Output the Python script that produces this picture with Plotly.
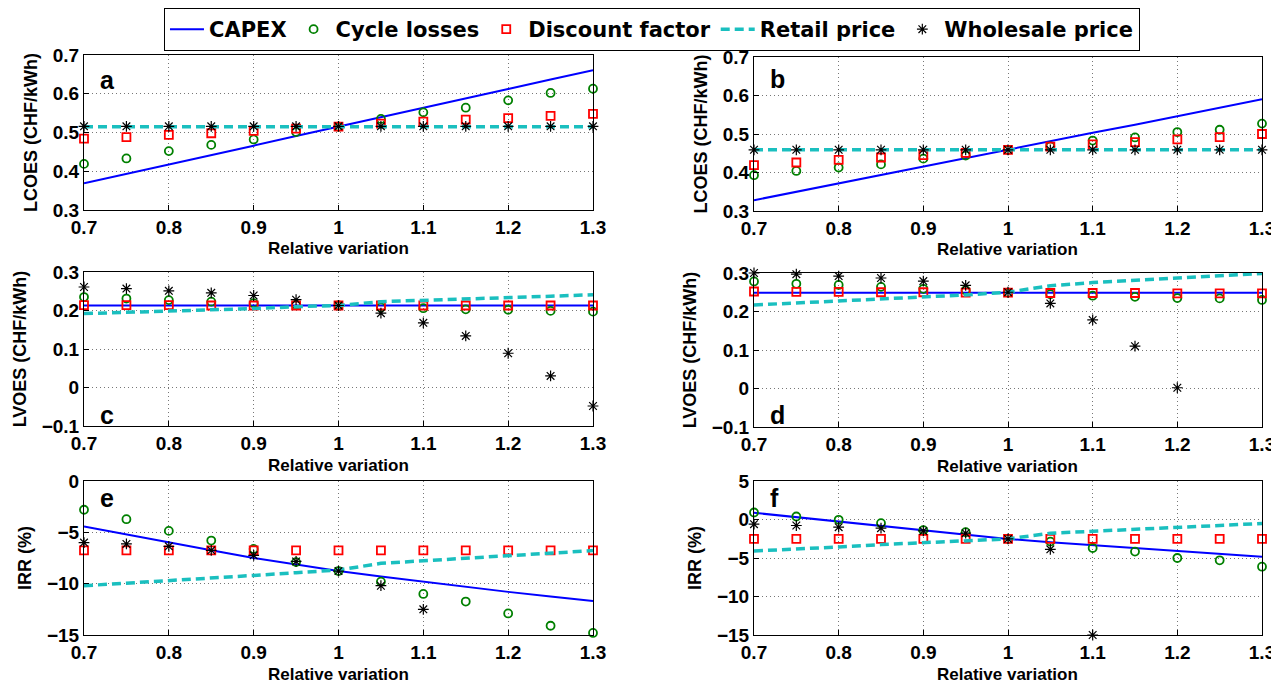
import plotly.graph_objects as go

W, H = 1279, 682

RELATIVE = [0.7, 0.75, 0.8, 0.85, 0.9, 0.95, 1.0, 1.05, 1.1, 1.15, 1.2, 1.25, 1.3]
SERIES_NAMES = ["CAPEX", "Cycle losses", "Discount factor", "Retail price", "Wholesale price"]
PANEL_LETTERS = ["a", "b", "c", "d", "e", "f"]
Y_TITLES = ["LCOES (CHF/kWh)", "LCOES (CHF/kWh)", "LVOES (CHF/kWh)", "LVOES (CHF/kWh)", "IRR (%)", "IRR (%)"]
X_TITLE = "Relative variation"

# Panel a: LCOES
A_CAPEX = [0.369, 0.393, 0.418, 0.442, 0.466, 0.491, 0.515, 0.539, 0.564, 0.588, 0.612, 0.637, 0.661]
A_CYCLE = [0.419, 0.433, 0.452, 0.468, 0.482, 0.501, 0.515, 0.535, 0.552, 0.564, 0.583, 0.602, 0.613]
A_DISCOUNT = [0.484, 0.488, 0.494, 0.498, 0.504, 0.510, 0.515, 0.523, 0.528, 0.533, 0.537, 0.543, 0.548]
A_RETAIL = [0.515, 0.515, 0.515, 0.515, 0.515, 0.515, 0.515, 0.515, 0.515, 0.515, 0.515, 0.515, 0.515]
A_WHOLESALE = [0.516, 0.516, 0.516, 0.516, 0.516, 0.516, 0.516, 0.516, 0.516, 0.516, 0.516, 0.516, 0.516]

# Panel b: LCOES
B_CAPEX = [0.328, 0.350, 0.372, 0.393, 0.415, 0.437, 0.459, 0.481, 0.503, 0.524, 0.546, 0.568, 0.590]
B_CYCLE = [0.393, 0.404, 0.413, 0.421, 0.436, 0.444, 0.459, 0.468, 0.483, 0.491, 0.505, 0.511, 0.527]
B_DISCOUNT = [0.419, 0.426, 0.433, 0.439, 0.445, 0.451, 0.459, 0.467, 0.473, 0.479, 0.486, 0.492, 0.500]
B_RETAIL = [0.459, 0.459, 0.459, 0.459, 0.459, 0.459, 0.459, 0.459, 0.459, 0.459, 0.459, 0.459, 0.459]
B_WHOLESALE = [0.459, 0.459, 0.459, 0.459, 0.459, 0.459, 0.459, 0.459, 0.459, 0.459, 0.459, 0.459, 0.459]

# Panel c: LVOES
C_CAPEX = [0.213, 0.213, 0.213, 0.213, 0.213, 0.213, 0.213, 0.213, 0.213, 0.213, 0.213, 0.213, 0.213]
C_CYCLE = [0.235, 0.231, 0.227, 0.223, 0.219, 0.215, 0.213, 0.208, 0.206, 0.203, 0.202, 0.199, 0.197]
C_DISCOUNT = [0.214, 0.214, 0.214, 0.213, 0.213, 0.213, 0.213, 0.213, 0.213, 0.213, 0.213, 0.213, 0.213]
C_RETAIL = [0.192, 0.195, 0.198, 0.202, 0.205, 0.210, 0.213, 0.223, 0.226, 0.230, 0.233, 0.237, 0.241]
C_WHOLESALE = [0.261, 0.257, 0.251, 0.246, 0.239, 0.228, 0.213, 0.193, 0.168, 0.134, 0.089, 0.030, -0.048]

# Panel d: LVOES
D_CAPEX = [0.249, 0.249, 0.249, 0.249, 0.249, 0.249, 0.249, 0.249, 0.249, 0.249, 0.249, 0.249, 0.249]
D_CYCLE = [0.278, 0.272, 0.269, 0.264, 0.259, 0.255, 0.249, 0.245, 0.241, 0.238, 0.235, 0.234, 0.230]
D_DISCOUNT = [0.252, 0.251, 0.251, 0.250, 0.250, 0.249, 0.249, 0.248, 0.248, 0.248, 0.247, 0.247, 0.247]
D_RETAIL = [0.217, 0.222, 0.226, 0.232, 0.238, 0.243, 0.250, 0.267, 0.275, 0.281, 0.287, 0.293, 0.299]
D_WHOLESALE = [0.300, 0.297, 0.292, 0.287, 0.279, 0.268, 0.250, 0.221, 0.178, 0.110, 0.002, None, None]

# Panel e: IRR
E_CAPEX = [-4.43, -5.22, -6.00, -6.75, -7.50, -8.15, -8.77, -9.30, -9.82, -10.30, -10.80, -11.25, -11.70]
E_CYCLE = [-2.80, -3.72, -4.86, -5.80, -6.62, -7.90, -8.77, -9.80, -11.00, -11.74, -12.90, -14.10, -14.80]
E_DISCOUNT = [-6.75, -6.75, -6.75, -6.75, -6.75, -6.75, -6.75, -6.75, -6.75, -6.75, -6.75, -6.75, -6.75]
E_RETAIL = [-10.20, -9.97, -9.70, -9.46, -9.20, -8.93, -8.67, -8.02, -7.76, -7.53, -7.30, -7.04, -6.78]
E_WHOLESALE = [-6.00, -6.13, -6.36, -6.75, -7.24, -7.83, -8.77, -10.20, -12.50, None, None, None, None]

# Panel f: IRR
F_CAPEX = [0.87, 0.30, -0.30, -0.87, -1.43, -2.00, -2.52, -2.96, -3.35, -3.74, -4.13, -4.48, -4.83]
F_CYCLE = [0.91, 0.39, -0.04, -0.48, -1.39, -1.65, -2.52, -2.87, -3.70, -4.17, -5.00, -5.30, -6.13]
F_DISCOUNT = [-2.52, -2.52, -2.52, -2.52, -2.52, -2.52, -2.52, -2.52, -2.52, -2.52, -2.52, -2.52, -2.52]
F_RETAIL = [-4.09, -3.87, -3.57, -3.26, -3.00, -2.74, -2.52, -1.78, -1.52, -1.26, -1.00, -0.74, -0.52]
F_WHOLESALE = [-0.61, -0.78, -1.00, -1.13, -1.48, -1.78, -2.52, -3.87, -15.00, None, None, None, None]

PANELS = [
    [A_CAPEX, A_CYCLE, A_DISCOUNT, A_RETAIL, A_WHOLESALE],
    [B_CAPEX, B_CYCLE, B_DISCOUNT, B_RETAIL, B_WHOLESALE],
    [C_CAPEX, C_CYCLE, C_DISCOUNT, C_RETAIL, C_WHOLESALE],
    [D_CAPEX, D_CYCLE, D_DISCOUNT, D_RETAIL, D_WHOLESALE],
    [E_CAPEX, E_CYCLE, E_DISCOUNT, E_RETAIL, E_WHOLESALE],
    [F_CAPEX, F_CYCLE, F_DISCOUNT, F_RETAIL, F_WHOLESALE],
]
Y_RANGES = [[0.3, 0.7], [0.3, 0.7], [-0.1, 0.3], [-0.1, 0.3], [-15, 0], [-15, 5]]
Y_DTICKS = [0.1, 0.1, 0.1, 0.1, 5, 5]

# Layout (pixel boxes: left, right, top, bottom)
BOXES = [
    (76, 585, 47, 202), (746, 1254, 49, 203),
    (76, 585, 264, 418), (746, 1254, 265, 419),
    (76, 585, 473, 627), (746, 1254, 473, 627),
]
XTITLE_SHIFT = [-39, -39, -39, -39, -39, -39]
LETTER_POS = [(0.028, 0.84), (0.028, 0.86), (0.028, 0.07), (0.028, 0.075), (0.028, 0.89), (0.028, 0.89)]

FONT = "Liberation Sans, Arial, Helvetica, sans-serif"
LEGEND_FONT = "DejaVu Sans, Liberation Sans, sans-serif"

STYLES = [
    dict(mode="lines", line=dict(color="#0000ff", width=2)),
    dict(mode="markers", marker=dict(symbol="circle-open", size=8, color="#008000", line=dict(width=1.8, color="#008000"))),
    dict(mode="markers", marker=dict(symbol="square-open", size=8, color="#ff0000", line=dict(width=1.8, color="#ff0000"))),
    dict(mode="lines", line=dict(color="#1abfbf", width=3.5, dash="9px,5px")),
    dict(mode="markers", marker=dict(symbol="asterisk-open", size=9, color="#000000", line=dict(width=1.2, color="#000000"))),
]

fig = go.Figure()
for p, series in enumerate(PANELS):
    ax = "" if p == 0 else str(p + 1)
    for s, vals in enumerate(series):
        fig.add_trace(go.Scatter(
            x=RELATIVE, y=vals, name=SERIES_NAMES[s],
            xaxis="x" + ax, yaxis="y" + ax,
            showlegend=(p == 0), cliponaxis=False, connectgaps=False,
            **STYLES[s]
        ))

layout = dict(
    width=W, height=H,
    template="none",
    margin=dict(l=0, r=0, t=0, b=0, autoexpand=False),
    paper_bgcolor="white", plot_bgcolor="white",
    font=dict(family=FONT, color="black", size=18, weight="bold"),
    showlegend=True,
    legend=dict(
        orientation="h", x=0.5035, xanchor="center", y=1.0, yanchor="top",
        bordercolor="black", borderwidth=1, bgcolor="white",
        font=dict(family=LEGEND_FONT, size=21, color="black", weight="bold"),
        itemwidth=34, tracegroupgap=0,
    ),
    annotations=[],
)

for p in range(6):
    l, r, t, b = BOXES[p]
    ax = "" if p == 0 else str(p + 1)
    axis_common = dict(
        showline=True, linecolor="black", linewidth=1, mirror=True,
        ticks="inside", ticklen=5, tickcolor="black", tickwidth=1,
        showgrid=True, gridcolor="#777777", gridwidth=1, griddash="1px,3px",
        zeroline=False, automargin=False,
        tickfont=dict(family=FONT, size=19, color="black", weight="bold"),
    )
    layout["xaxis" + ax] = dict(
        domain=[l / W, r / W], anchor="y" + ax,
        range=[0.7, 1.3], tick0=0.7, dtick=0.1,
        **axis_common
    )
    layout["yaxis" + ax] = dict(
        domain=[1 - b / H, 1 - t / H], anchor="x" + ax,
        range=Y_RANGES[p], tick0=Y_RANGES[p][0], dtick=Y_DTICKS[p],
        title=dict(text=Y_TITLES[p], standoff=10, font=dict(family=FONT, size=18, color="black", weight="bold")),
        **axis_common
    )
    # x-axis title as an annotation below the tick labels
    layout["annotations"].append(dict(
        text=X_TITLE, xref=("x" + ax + " domain"), yref=("y" + ax + " domain"),
        x=0.5, y=0, xanchor="center", yanchor="middle", yshift=XTITLE_SHIFT[p], showarrow=False,
        font=dict(family=FONT, size=17, color="black", weight="bold"),
    ))
    lx, ly = LETTER_POS[p]
    layout["annotations"].append(dict(
        text=PANEL_LETTERS[p], xref=("x" + ax + " domain"), yref=("y" + ax + " domain"),
        x=lx, y=ly, xanchor="left", yanchor="middle", showarrow=False,
        font=dict(family=FONT, size=25, color="black", weight="bold"),
    ))

fig.update_layout(**layout)
fig.write_html("out.html")
